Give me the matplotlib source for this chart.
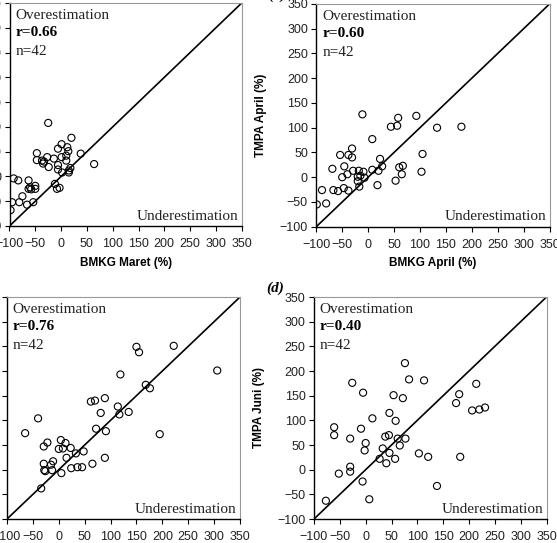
import numpy as np
import matplotlib
matplotlib.use("Agg")
import matplotlib.pyplot as plt

# (a) BMKG Maret vs TMPA Maret
maret_bmkg = [-25, 20, 1, 12, -6, 14, -47, 10, -27, -14, 1, 38, -47, -37, 10, -35, 64,
              -24, -6, 18, -6, 2, 15, -12, -8, -3, -92, -83, -63, -63, -58, -50, -50,
              -75, -95, -81, -66, -54, -98, -33, 15, -60]
maret_tmpa = [108, 78, 65, 59, 56, 51, 47, 42, 39, 36, 39, 46, 33, 32, 32, 26, 25,
              19, 23, 17, 14, 8, 8, -15, -25, -23, -4, -8, -8, -25, -26, -19, -25,
              -40, -52, -52, -57, -52, -68, 30, 12, -22]

# (b) BMKG April vs TMPA April
april_bmkg = [-11, 58, 93, 44, 56, 133, 180, 8, -31, -54, -38, -31, 23, 105, -69, -46,
              -29, -18, -9, 8, 20, 27, 60, 67, 65, 103, -50, -40, -20, -20, -17, -7,
              18, 53, -89, -67, -58, -47, -38, -99, -81, -15]
april_tmpa = [127, 120, 124, 102, 104, 100, 102, 77, 58, 45, 45, 40, 37, 47, 17, 22,
              13, 13, 11, 15, 13, 22, 20, 23, 6, 11, 0, 6, 1, -8, -19, -1,
              -16, -7, -26, -26, -28, -22, -27, -55, -53, 3]

# (c) BMKG Mei vs TMPA Mei
mei_bmkg = [150, 155, 222, 306, 119, 168, 176, 62, 70, 89, 114, 117, 135, 81, -40, 72,
            91, 195, -65, 4, -22, -29, 13, 8, 0, 23, 33, 48, 15, -11, -29, 65,
            89, -28, -26, -13, 5, 24, 36, 45, -34, -15]
mei_tmpa = [249, 238, 251, 201, 193, 172, 165, 138, 140, 145, 128, 112, 117, 115, 104, 83,
            78, 72, 74, 60, 55, 47, 54, 43, 42, 44, 33, 37, 24, 17, 12, 12,
            24, -1, -3, -1, -7, 3, 5, 5, -38, 10]

# (d) BMKG Juni vs TMPA Juni
juni_bmkg = [76, -26, 84, 113, 214, -5, 54, 72, 181, 175, 206, 220, 231, 46, 13, 58,
             -61, -61, -9, -30, 38, 45, 62, 77, 0, -2, 33, 46, 66, 103, 121, 183,
             27, 40, 57, -30, -30, -52, -6, 138, 7, -77]
juni_tmpa = [216, 176, 183, 181, 174, 156, 151, 145, 153, 135, 120, 122, 126, 115, 104, 99,
             86, 70, 83, 63, 67, 70, 63, 63, 54, 39, 43, 34, 49, 33, 26, 26,
             22, 13, 22, 6, -4, -8, -24, -33, -60, -63]

panels = [
    (maret_bmkg, maret_tmpa, "0.66", "BMKG Maret (%)", "TMPA Maret (%)", "(a)"),
    (april_bmkg, april_tmpa, "0.60", "BMKG April (%)", "TMPA April (%)", "(b)"),
    (mei_bmkg, mei_tmpa, "0.76", "BMKG Mei (%)", "TMPA Mei (%)", "(c)"),
    (juni_bmkg, juni_tmpa, "0.40", "BMKG Juni (%)", "TMPA Juni (%)", "(d)"),
]

W, H = 557, 543
# axes boxes in pixels: left, top, right, bottom
boxes = [(9.5, 3, 241.7, 226), (316.3, 4, 549.5, 226.7),
         (7, 297, 240, 519), (314, 297, 546.5, 519)]

sans = ["Liberation Sans", "DejaVu Sans"]
serif = ["Liberation Serif", "DejaVu Serif"]

fig = plt.figure(figsize=(W / 100, H / 100), dpi=100)
ticks = np.arange(-100, 351, 50)

for (xs, ys, r, xlab, ylab, tag), (l, t, rr, b) in zip(panels, boxes):
    ax = fig.add_axes([l / W, 1 - b / H, (rr - l) / W, (b - t) / H])
    ax.scatter(xs, ys, s=26, facecolors="none", edgecolors="black", linewidths=0.8, zorder=3)
    ax.plot([-100, 350], [-100, 350], color="black", lw=1.2, zorder=2)
    ax.set_xlim(-100, 350)
    ax.set_ylim(-100, 350)
    ax.set_xticks(ticks)
    ax.set_yticks(ticks)
    ax.tick_params(direction="out", length=3.5, width=0.8, pad=2.5, labelsize=9)
    ax.tick_params(axis="x", pad=5)
    for lab in ax.get_xticklabels() + ax.get_yticklabels():
        lab.set_family(sans)
        lab.set_color("#222222")
    for side in ("top", "right"):
        ax.spines[side].set_color("#999999")
        ax.spines[side].set_linewidth(0.8)
    for side in ("left", "bottom"):
        ax.spines[side].set_linewidth(1.0)
    ax.set_xlabel(xlab, fontsize=8.5, fontweight="bold", family=sans, labelpad=5)
    ax.set_ylabel(ylab, fontsize=8.5, fontweight="bold", family=sans, labelpad=9)

    ax.text(0.025, 0.975, "Overestimation", transform=ax.transAxes, family=serif,
            fontsize=11, va="top", ha="left", color="#222222")
    ax.text(0.025, 0.895, "r=" + r, transform=ax.transAxes, family=serif,
            fontsize=11, fontweight="bold", va="top", ha="left")
    ax.text(0.025, 0.81, "n=42", transform=ax.transAxes, family=serif,
            fontsize=11, va="top", ha="left", color="#222222")
    ax.text(0.985, 0.015, "Underestimation", transform=ax.transAxes, family=serif,
            fontsize=11, va="bottom", ha="right", color="#222222")
    # panel tag, placed left of the y axis top
    fig.text((l - 39) / W, 1 - (t - 9) / H, tag, family=serif, fontsize=11,
             fontweight="bold", style="italic", ha="center", va="center")

fig.savefig("out.png", dpi=100)
